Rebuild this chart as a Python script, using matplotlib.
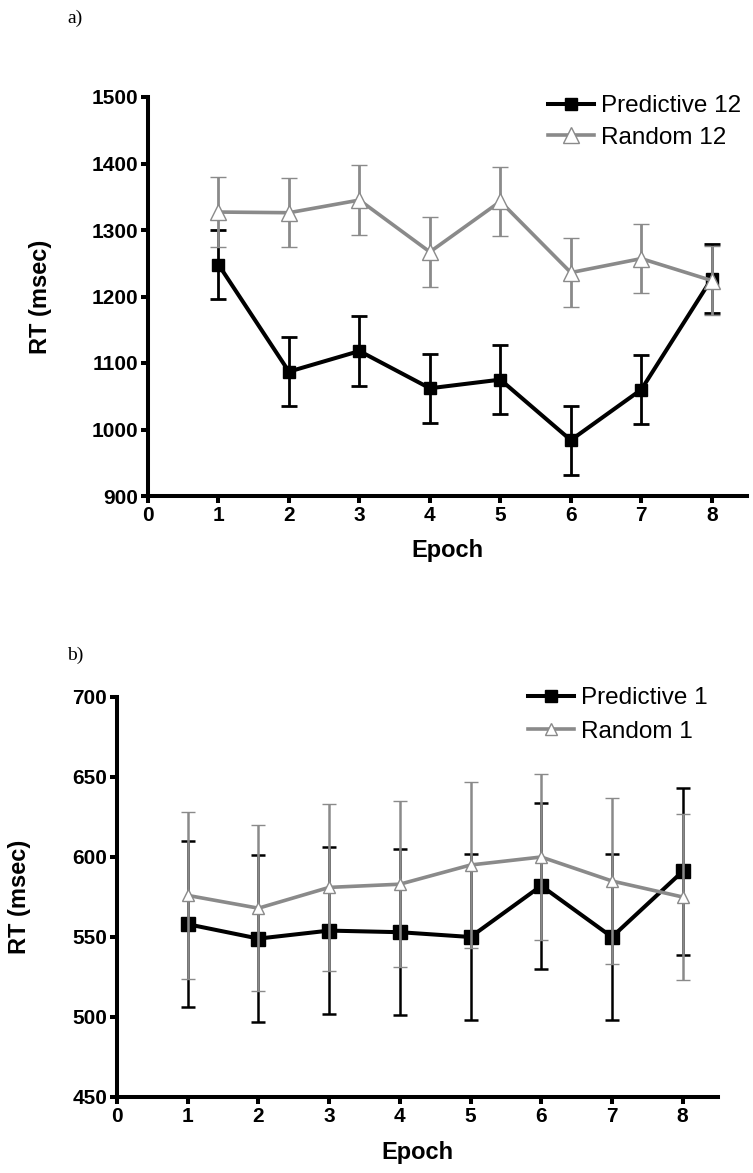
import matplotlib
matplotlib.use('Agg')
import matplotlib.pyplot as plt
from matplotlib.lines import Line2D

plt.rcParams['font.family'] = ['Liberation Sans', 'DejaVu Sans']

# ---- data ----
epochs = [1, 2, 3, 4, 5, 6, 7, 8]
x_ticks = [0, 1, 2, 3, 4, 5, 6, 7, 8]

pred12 = [1248, 1087, 1118, 1062, 1075, 984, 1060, 1227]
pred12_err = [52, 52, 52, 52, 52, 52, 52, 52]
rand12 = [1327, 1326, 1345, 1267, 1343, 1236, 1257, 1224]
rand12_err = [52, 52, 52, 52, 52, 52, 52, 52]
yticks_a = [900, 1000, 1100, 1200, 1300, 1400, 1500]

pred1 = [558, 549, 554, 553, 550, 582, 550, 591]
pred1_err = [52, 52, 52, 52, 52, 52, 52, 52]
rand1 = [576, 568, 581, 583, 595, 600, 585, 575]
rand1_err = [52, 52, 52, 52, 52, 52, 52, 52]
yticks_b = [450, 500, 550, 600, 650, 700]

W, H = 753, 1173
GREY = '#8a8a8a'

fig = plt.figure(figsize=(W / 100, H / 100), dpi=100)


def fx(px):
    return px / W


def fy(py):
    return 1 - py / H


def style_axes(ax, yticks, ylim):
    ax.set_xlim(0, 8.5)
    ax.set_ylim(*ylim)
    ax.set_xticks(x_ticks)
    ax.set_yticks(yticks)
    for s in ['top', 'right']:
        ax.spines[s].set_visible(False)
    for s in ['left', 'bottom']:
        ax.spines[s].set_linewidth(2.9)
    ax.tick_params(axis='both', direction='out', length=5, width=2.9,
                   labelsize=15, pad=2)
    for lbl in ax.get_xticklabels() + ax.get_yticklabels():
        lbl.set_fontweight('bold')
    ax.set_xlabel('Epoch', fontsize=17, fontweight='bold')
    ax.set_ylabel('RT (msec)', fontsize=17, fontweight='bold')


def draw(ax, pred, perr, rand, rerr, ms_sq, ms_tri, lw, elw, cap):
    ax.errorbar(epochs, pred, yerr=perr, color='black', lw=lw, marker='s',
                ms=ms_sq, mfc='black', mec='black', elinewidth=elw,
                capsize=cap, capthick=elw, zorder=3, clip_on=False)
    ax.errorbar(epochs, rand, yerr=rerr, color=GREY, lw=lw * 0.9, marker='^',
                ms=ms_tri, mfc='white', mec=GREY, mew=1.0, elinewidth=elw,
                capsize=cap, capthick=elw, zorder=4, clip_on=False)


# ---- panel a ----
la, ra, ta, ba = 148, 747, 97, 496
axa = fig.add_axes([fx(la), fy(ba), fx(ra - la), (ba - ta) / H])
draw(axa, pred12, pred12_err, rand12, rand12_err, 8.6, 11, 2.9, 2.0, 6)
style_axes(axa, yticks_a, (900, 1500))
axa.yaxis.set_label_coords((40 - la) / (ra - la), 0.5)
axa.yaxis.label.set_va('center')
axa.xaxis.set_label_coords(0.5, -(550 - ba) / (ba - ta))
axa.xaxis.label.set_va('center')

ha = [Line2D([], [], color='black', lw=2.9, marker='s', ms=8.6, mfc='black'),
      Line2D([], [], color=GREY, lw=2.6, marker='^', ms=11, mfc='white', mec=GREY, mew=1.0)]
axa.legend(ha, ['Predictive 12', 'Random 12'], loc='upper left',
           bbox_to_anchor=(fx(548), fy(95)), bbox_transform=fig.transFigure,
           frameon=False, fontsize=17.5, handlelength=1.9, handletextpad=0.3,
           borderpad=0, borderaxespad=0, labelspacing=0.4)
fig.text(fx(67), fy(18), 'a)', family='Liberation Serif', fontsize=14,
         ha='left', va='center')

# ---- panel b ----
lb, rb, tb, bb = 117, 718, 697, 1097
axb = fig.add_axes([fx(lb), fy(bb), fx(rb - lb), (bb - tb) / H])
draw(axb, pred1, pred1_err, rand1, rand1_err, 9.5, 8.5, 2.9, 1.8, 5)
style_axes(axb, yticks_b, (450, 700))
axb.yaxis.set_label_coords((20 - lb) / (rb - lb), 0.5)
axb.yaxis.label.set_va('center')
axb.xaxis.set_label_coords(0.5, -(1153 - bb) / (bb - tb))
axb.xaxis.label.set_va('center')

hb = [Line2D([], [], color='black', lw=2.9, marker='s', ms=8.6, mfc='black'),
      Line2D([], [], color=GREY, lw=2.6, marker='^', ms=9, mfc='white', mec=GREY, mew=1.0)]
axb.legend(hb, ['Predictive 1', 'Random 1'], loc='upper left',
           bbox_to_anchor=(fx(528), fy(687)), bbox_transform=fig.transFigure,
           frameon=False, fontsize=17.5, handlelength=1.9, handletextpad=0.3,
           borderpad=0, borderaxespad=0, labelspacing=0.49)
fig.text(fx(67), fy(655), 'b)', family='Liberation Serif', fontsize=14,
         ha='left', va='center')

fig.savefig('out.png', dpi=100)
